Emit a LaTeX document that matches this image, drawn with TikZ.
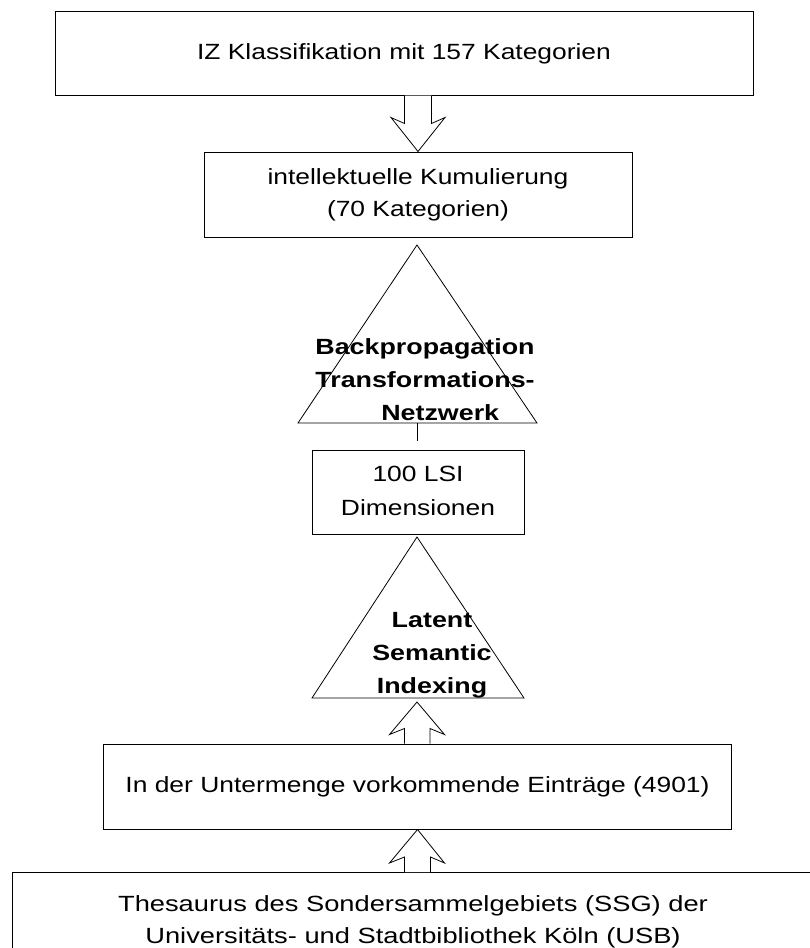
\documentclass[tikz,border=0pt]{standalone}
\usepackage{fontspec}
\setmainfont{Liberation Sans}
\usetikzlibrary{calc}
\newcommand{\widetext}[2][1.2]{\scalebox{#1}[1]{\begin{tabular}{@{}c@{}}#2\end{tabular}}}
\tikzset{
  boxnode/.style={draw, line width=1pt, inner sep=0pt, font=\fontsize{22}{32}\selectfont},
  lbl/.style={inner sep=0pt, font=\bfseries\fontsize{22}{33}\selectfont},
  tri/.style={draw, line width=0.8pt},
  hollow/.style={draw, line width=0.8pt, fill=white, line join=miter},
  link/.style={draw, line width=0.8pt}
}
\begin{document}
\begin{tikzpicture}[x=1pt,y=-1pt]
\useasboundingbox (0,0) rectangle (809,948);
\fill[white] (0,0) rectangle (809,948);

% boxes
\node[boxnode, minimum width=698pt, minimum height=84pt] (box1) at (404,53)
  {\widetext{IZ Klassifikation mit 157 Kategorien}};
\node[boxnode, minimum width=428pt, minimum height=85pt] (box2) at (418,194.5)
  {\widetext{intellektuelle Kumulierung\\(70 Kategorien)}};
\node[boxnode, minimum width=212pt, minimum height=84pt] (box3) at (418,492)
  {\widetext{100 LSI\\[2pt]Dimensionen}};
\node[boxnode, minimum width=628pt, minimum height=85pt] (box4) at (417.5,786.5)
  {\widetext{In der Untermenge vorkommende Einträge (4901)}};
\node[inner sep=0pt, font=\fontsize{22}{32}\selectfont] (box5) at (413,921)
  {\widetext[1.24]{Thesaurus des Sondersammelgebiets (SSG) der\\Universitäts- und Stadtbibliothek Köln (USB)}};
\coordinate (b5bl) at (12,960);
\coordinate (b5tl) at (12,872);
\coordinate (b5tr) at (820,872);
\draw[line width=1pt] (b5bl) -- (b5tl) -- (b5tr);

% triangles
\coordinate (t1a) at (417,245);
\coordinate (t1l) at (298,423);
\coordinate (t1r) at (537,423);
\draw[tri] (t1a) -- (t1r) -- (t1l) -- cycle;
\node[lbl] (t1text) at (425,381)
  {\widetext[1.22]{Backpropagation\\Transformations-\\\hspace*{25pt}Netzwerk}};

\coordinate (t2a) at (417,537);
\coordinate (t2l) at (312,698);
\coordinate (t2r) at (524,698);
\draw[tri] (t2a) -- (t2r) -- (t2l) -- cycle;
\node[lbl] (t2text) at (432,654)
  {\widetext[1.22]{Latent\\Semantic\\Indexing}};

% short connector below first triangle
\coordinate (t1b) at (417,423);
\coordinate (t1end) at (417,441);
\draw[link] (t1b) -- (t1end);

% hollow arrow box1 -> box2
\coordinate (a1b) at (box2.north |- box1.south);
\draw[hollow] ($(a1b)+(-13.5,0)$) -- ($(a1b)+(-13.5,28)$) -- ($(a1b)+(-27,22)$)
  -- (box2.north) -- ($(a1b)+(27,22)$) -- ($(a1b)+(13.5,28)$) -- ($(a1b)+(13.5,0)$);

% hollow arrow box4 -> triangle 2
\coordinate (a2b) at (box4.north);
\coordinate (a2t) at (417,702);
\draw[hollow] ($(a2b)+(-13,0)$) -- ($(a2b)+(-13,-15)$) -- ($(a2b)+(-28,-9)$)
  -- (a2t) -- ($(a2b)+(27,-9)$) -- ($(a2b)+(12.5,-15)$) -- ($(a2b)+(12.5,0)$);

% hollow arrow box5 -> box4
\coordinate (a3b) at (box4.south |- b5tl);
\draw[hollow] ($(a3b)+(-13,0)$) -- ($(a3b)+(-13,-15)$) -- ($(a3b)+(-28,-9)$)
  -- (box4.south) -- ($(a3b)+(27,-9)$) -- ($(a3b)+(13,-15)$) -- ($(a3b)+(13,0)$);
\end{tikzpicture}
\end{document}
